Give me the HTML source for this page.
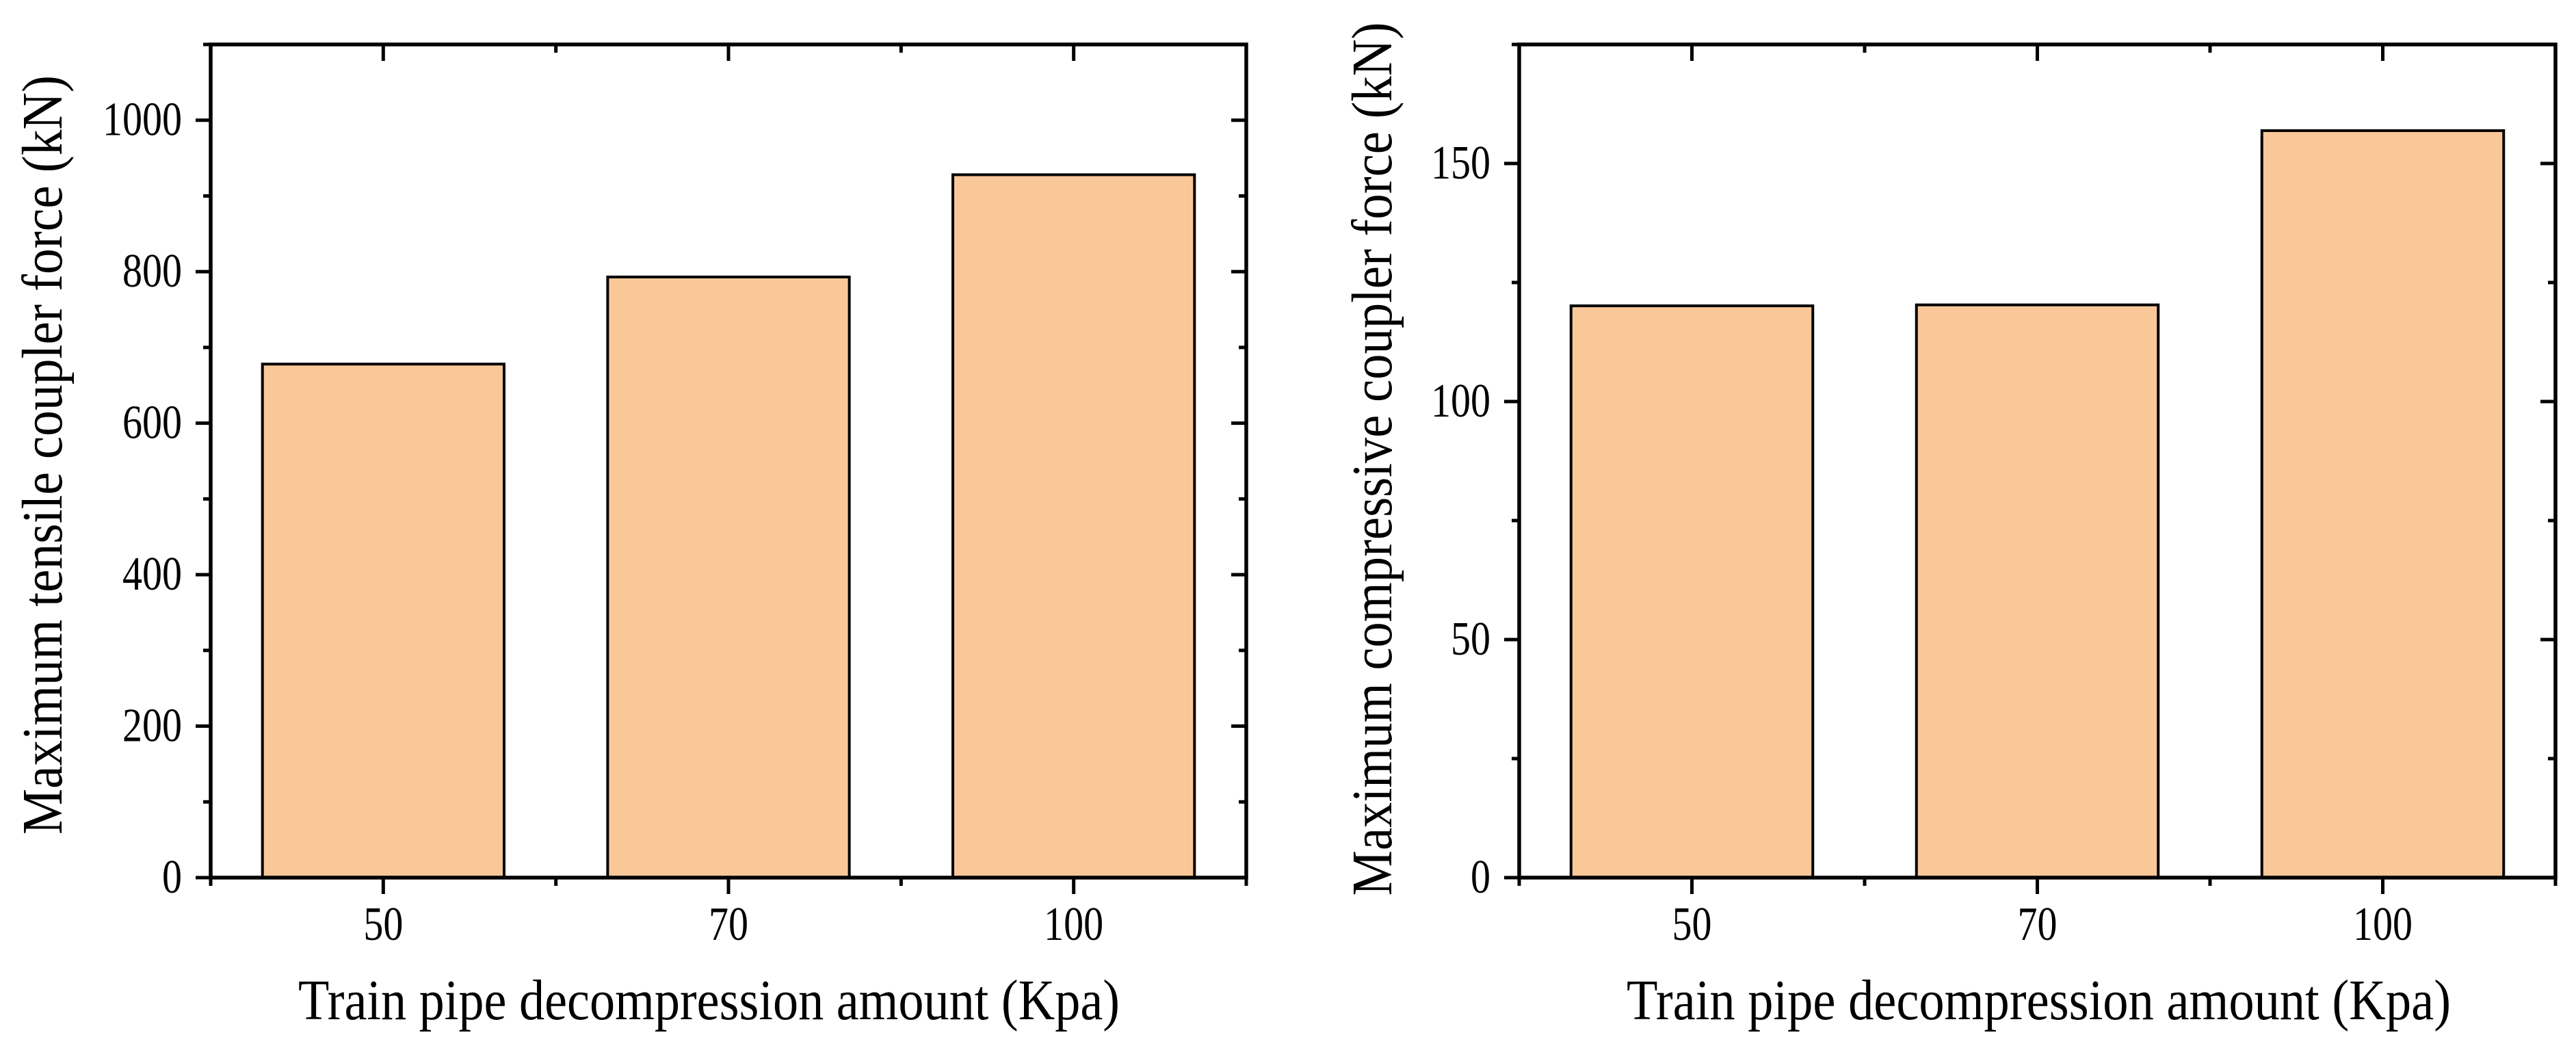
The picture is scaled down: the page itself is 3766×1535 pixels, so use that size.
<!DOCTYPE html>
<html><head><meta charset="utf-8"><style>
html,body{margin:0;padding:0;background:#fff;}
svg{display:block;}
text{font-family:"Liberation Serif","DejaVu Serif",serif;fill:#000;}
</style></head><body>
<svg id="chart" width="3766" height="1535" viewBox="0 0 3766 1535" xmlns="http://www.w3.org/2000/svg"></svg>
<script>
const categories = ["50", "70", "100"];
const tensileValues = [678, 793, 928];
const compressiveValues = [120.1, 120.3, 156.9];
const tensileTicks = [0, 200, 400, 600, 800, 1000];
const compressiveTicks = [0, 50, 100, 150];

const NS = "http://www.w3.org/2000/svg";
const svg = document.getElementById("chart");
function mk(tag, attrs, parent) {
  const e = document.createElementNS(NS, tag);
  for (const k in attrs) e.setAttribute(k, attrs[k]);
  (parent || svg).appendChild(e);
  return e;
}

function panel(cfg) {
  const g = mk("g", {});
  
  
  const L = cfg.left, R = cfg.right, T = 65, B = 1283;
  const W = R - L;
  const n = categories.length;
  const xPos = i => L + W * (2 * i + 1) / (2 * n);
  const yPos = v => B - (B - T) * v / cfg.ymax;
  const band = W / n;
  cfg.values.forEach((v, i) => {
    const bw = band * 0.7;
    const r = mk("rect", {x: xPos(i) - bw / 2, y: yPos(v), width: bw, height: B - yPos(v),
      fill: "#FAC898", stroke: "#000", "stroke-width": 4}, g);
    
    
  });
  const fr = mk("rect", {x: L, y: T, width: W, height: B - T, fill: "none", stroke: "#000", "stroke-width": 5.5}, g);
  
  
  const step = cfg.ticks[1] - cfg.ticks[0];
  for (let v = 0; v <= cfg.ymax + 1e-9; v += step / 2) {
    const y = yPos(v);
    const major = Math.abs((v / step) - Math.round(v / step)) < 1e-6;
    const len = major ? 22 : 11;
    mk("line", {x1: L - len, x2: L, y1: y, y2: y, stroke: "#000", "stroke-width": 5}, g);
    mk("line", {x1: R, x2: R - len, y1: y, y2: y, stroke: "#000", "stroke-width": 5}, g);
  }
  cfg.ticks.forEach(v => {
    const s = String(v);
    const t = mk("text", {x: L - 42, y: yPos(v) + 22, "font-size": 70, "text-anchor": "end",
      textLength: s.length * 29, lengthAdjust: "spacingAndGlyphs"}, g);
    t.textContent = s;
    
    
  });
  for (let k = 0; k <= 2 * n; k++) {
    const x = L + W * k / (2 * n);
    const major = k % 2 === 1;
    const len = major ? 24 : 12;
    mk("line", {x1: x, x2: x, y1: B, y2: B + len, stroke: "#000", "stroke-width": 5}, g);
    mk("line", {x1: x, x2: x, y1: T, y2: T + len, stroke: "#000", "stroke-width": 5}, g);
  }
  categories.forEach((c, i) => {
    const t = mk("text", {x: xPos(i), y: 1374, "font-size": 70, "text-anchor": "middle",
      textLength: c.length * 29, lengthAdjust: "spacingAndGlyphs"}, g);
    t.textContent = c;
    
    
  });
  const xt = mk("text", {x: cfg.xtStart, y: 1490, "font-size": 84, textLength: cfg.xtLen, lengthAdjust: "spacingAndGlyphs"}, g);
  xt.textContent = "Train pipe decompression amount (Kpa)";
  
  
  const yt = mk("text", {x: 0, y: 0, "font-size": 84, "text-anchor": "middle", textLength: cfg.ytLen, lengthAdjust: "spacingAndGlyphs",
    transform: "translate(" + cfg.ytX + "," + cfg.ytY + ") rotate(-90)"}, g);
  yt.textContent = cfg.ytitle;
  
  
}

panel({name: "tensile-panel", left: 308, right: 1822, ymax: 1100, values: tensileValues, ticks: tensileTicks,
  xtStart: 436, xtLen: 1201, ytX: 90, ytY: 665, ytLen: 1110, ytitle: "Maximum tensile  coupler force (kN)"});
panel({name: "compressive-panel", left: 2221, right: 3736, ymax: 175, values: compressiveValues, ticks: compressiveTicks,
  xtStart: 2378, xtLen: 1205, ytX: 2034, ytY: 671, ytLen: 1277, ytitle: "Maximum compressive coupler force (kN)"});
</script>
</body></html>
